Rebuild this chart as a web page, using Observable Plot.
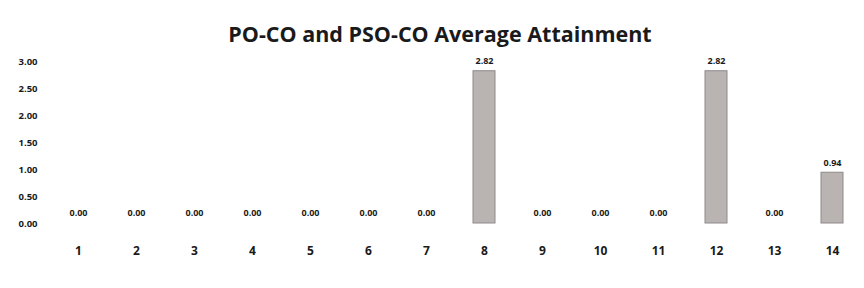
<!DOCTYPE html>
<html>
<head>
<meta charset="utf-8">
<script src="https://cdn.jsdelivr.net/npm/d3@7"></script>
<script src="https://cdn.jsdelivr.net/npm/@observablehq/plot@0.6"></script>
<style>
  html, body { margin: 0; padding: 0; background: #fff; }
  #wrap { width: 864px; height: 288px; position: relative; overflow: hidden; }
  #title { height: 26px; padding-top: 24px; padding-left: 16px; line-height: 20px; text-align: center;
           font-family: "Open Sans", sans-serif; font-weight: 700; font-size: 21.5px; color: #1a1a1a; }
</style>
</head>
<body>
<div id="wrap">
  <div id="title">PO-CO and PSO-CO Average Attainment</div>
  <div id="chart"></div>
</div>
<script>
const categories = ["1","2","3","4","5","6","7","8","9","10","11","12","13","14"];
const values = [0, 0, 0, 0, 0, 0, 0, 2.82, 0, 0, 0, 2.82, 0, 0.94];
const yTicks = [0, 0.5, 1, 1.5, 2, 2.5, 3];

const data = categories.map((c, i) => ({cat: c, value: values[i]}));

const chart = Plot.plot({
  width: 864,
  height: 238,
  marginTop: 11,
  marginBottom: 65,
  marginLeft: 40,
  marginRight: 0,
  style: {fontFamily: "'Open Sans', sans-serif", color: "#1a1a1a", background: "transparent"},
  x: {domain: categories, range: [45.8, 863.4], paddingInner: 0.62, paddingOuter: 0.31, label: null},
  y: {domain: [0, 3], label: null},
  marks: [
    Plot.axisY({ticks: yTicks, tickFormat: d => d.toFixed(2), tickSize: 0, tickPadding: 3,
      fontSize: 9.5, fontWeight: 700, label: null}),
    Plot.axisX({tickSize: 0, tickPadding: 23, fontSize: 12, fontWeight: 700, label: null}),
    Plot.barY(data, {x: "cat", y: "value", fill: "#b9b4b2", stroke: "#8e8a8a", strokeWidth: 1}),
    Plot.text(data, {x: "cat", y: "value", text: d => d.value.toFixed(2), dy: -10,
      fontSize: 9, fontWeight: 700, fill: "#1a1a1a"})
  ]
});
document.getElementById("chart").appendChild(chart);
</script>
</body>
</html>
